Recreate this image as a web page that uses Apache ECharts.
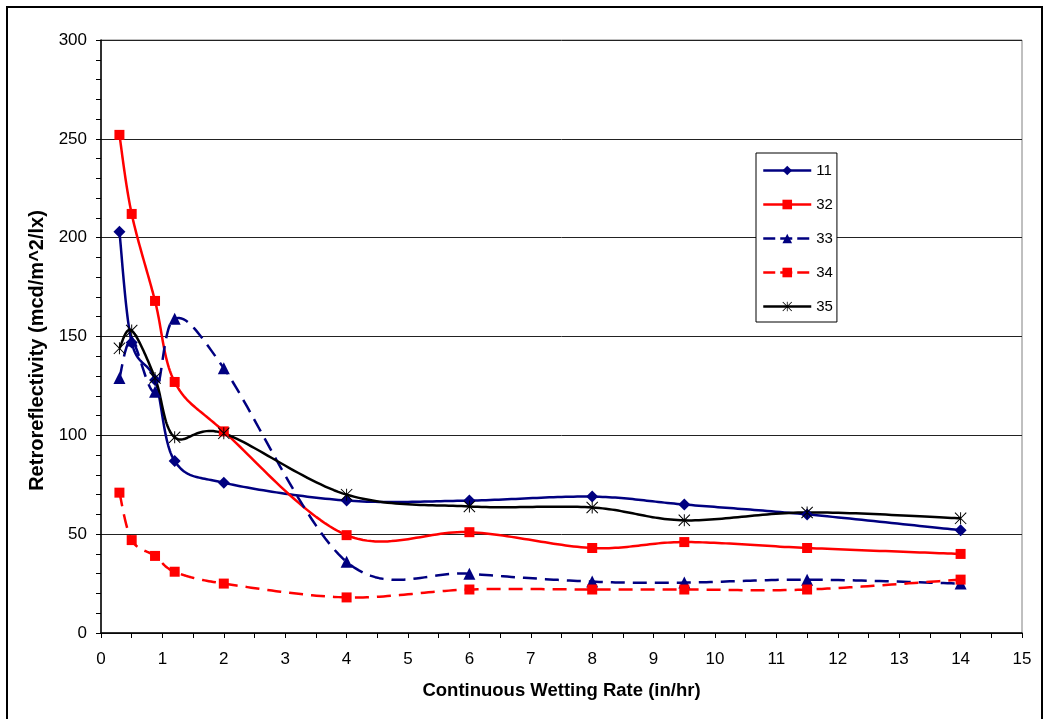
<!DOCTYPE html>
<html><head><meta charset="utf-8">
<script src="https://cdn.jsdelivr.net/npm/echarts@6/dist/echarts.min.js"></script>
<style>html,body{margin:0;padding:0;background:#fff}#c{width:1050px;height:719px}</style>
</head><body><div id="c"></div>
<script>
const xValues = [0.3, 0.5, 0.88, 1.2, 2, 4, 6, 8, 9.5, 11.5, 14];
const s11 = [203, 147, 128, 87, 76, 67, 67, 69, 65, 60, 52];
const s32 = [252, 212, 168, 127, 102, 49.5, 51, 43, 46, 43, 40];
const s33 = [129, 148, 122, 159, 134, 36, 30, 26, 25.5, 27, 25];
const s34 = [71, 47, 39, 31, 25, 18, 22, 22, 22, 22, 27];
const s35 = [144, 153, 129, 99, 101, 70, 64, 63.5, 57, 61, 58];
const seriesNames = ['11', '32', '33', '34', '35'];
const xTicks = [0,1,2,3,4,5,6,7,8,9,10,11,12,13,14,15];
const yTicks = [0,50,100,150,200,250,300];

const star = 'path://M9.2 0 L10.8 0 L10.8 20 L9.2 20 Z M0 1.2 L1.2 0 L20 18.8 L18.8 20 Z M18.8 0 L20 1.2 L1.2 20 L0 18.8 Z';
const pair = arr => xValues.map((x, i) => [x, arr[i]]);
const FONT = 'Liberation Sans, Arial, sans-serif';
const DASH = [14, 8];

const defs = [
  { name: seriesNames[0], data: s11, color: '#000080', dashed: false, symbol: 'diamond', size: 12 },
  { name: seriesNames[1], data: s32, color: '#ff0000', dashed: false, symbol: 'rect', size: 10 },
  { name: seriesNames[2], data: s33, color: '#000080', dashed: true, symbol: 'triangle', size: 12 },
  { name: seriesNames[3], data: s34, color: '#ff0000', dashed: true, symbol: 'rect', size: 10 },
  { name: seriesNames[4], data: s35, color: '#000000', dashed: false, symbol: star, size: 12 }
];

// Smooth curve (Excel-like Bezier) drawn in pixel space through the axis scales
function curveSeries(d, idx) {
  return {
    name: 'curve' + d.name, type: 'custom', z: 2 + idx * 0.01,
    data: [[xValues[0], d.data[0]]], silent: true,
    renderItem: (params, api) => {
      const pts = xValues.map((x, i) => api.coord([x, d.data[i]]));
      const n = pts.length, out = [pts[0]];
      for (let i = 0; i < n - 1; i++) {
        const p0 = pts[Math.max(i - 1, 0)], p1 = pts[i], p2 = pts[i + 1], p3 = pts[Math.min(i + 2, n - 1)];
        const c1 = [p1[0] + (p2[0] - p0[0]) / 6, p1[1] + (p2[1] - p0[1]) / 6];
        const c2 = [p2[0] - (p3[0] - p1[0]) / 6, p2[1] - (p3[1] - p1[1]) / 6];
        const steps = 30;
        for (let s = 1; s <= steps; s++) {
          const t = s / steps, u = 1 - t;
          out.push([
            u*u*u*p1[0] + 3*u*u*t*c1[0] + 3*u*t*t*c2[0] + t*t*t*p2[0],
            u*u*u*p1[1] + 3*u*u*t*c1[1] + 3*u*t*t*c2[1] + t*t*t*p2[1]
          ]);
        }
      }
      return {
        type: 'polyline', shape: { points: out },
        style: { stroke: d.color, lineWidth: 2.5, fill: null, lineDash: d.dashed ? DASH : null, lineJoin: 'round' }
      };
    }
  };
}

function markerSeries(d, idx) {
  return {
    name: d.name, type: 'line', data: pair(d.data), z: 3 + idx * 0.01,
    symbol: d.symbol, symbolSize: d.size, showSymbol: true,
    lineStyle: { color: d.color, width: 2.5, opacity: 0, type: d.dashed ? DASH : 'solid' },
    itemStyle: { color: d.color, borderColor: d.color, borderWidth: 0 },
    emphasis: { disabled: true }
  };
}

const chart = echarts.init(document.getElementById('c'), null, { renderer: 'canvas' });
chart.setOption({
  animation: false,
  backgroundColor: '#fff',
  textStyle: { fontFamily: FONT },
  graphic: [{
    type: 'rect', shape: { x: 7, y: 7, width: 1035, height: 740 },
    style: { fill: 'none', stroke: '#000', lineWidth: 2 }, z: -10, silent: true
  }],
  grid: { left: 101, right: 28, top: 40, bottom: 86, show: true, borderColor: '#808080', borderWidth: 1 },
  legend: {
    orient: 'vertical', left: 756, top: 153,
    data: defs.map(d => ({
      name: d.name,
      lineStyle: { color: d.color, width: 2.5, opacity: 1, type: d.dashed ? [12, 5] : 'solid' }
    })),
    backgroundColor: '#fff', borderColor: '#000', borderWidth: 1,
    padding: [10, 4, 8, 6], itemWidth: 48, itemHeight: 12, itemGap: 19,
    textStyle: { fontFamily: FONT, fontSize: 15, color: '#000' }
  },
  xAxis: {
    type: 'value', min: 0, max: 15, interval: 1,
    name: 'Continuous Wetting Rate (in/hr)', nameLocation: 'middle', nameGap: 48,
    nameTextStyle: { fontFamily: FONT, fontWeight: 'bold', fontSize: 18.5, color: '#000' },
    axisLine: { lineStyle: { color: '#000', width: 1.5 } },
    axisTick: { show: true, length: 5, inside: false, lineStyle: { color: '#000' } },
    minorTick: { show: true, splitNumber: 2, length: 5, lineStyle: { color: '#000' } },
    axisLabel: { fontFamily: FONT, fontSize: 17, color: '#000', margin: 18,
      formatter: v => xTicks.includes(v) ? String(v) : '' },
    splitLine: { show: false }
  },
  yAxis: {
    type: 'value', min: 0, max: 300, interval: 50,
    name: 'Retroreflectivity (mcd/m^2/lx)', nameLocation: 'middle', nameGap: 54, nameRotate: 90,
    nameTextStyle: { fontFamily: FONT, fontWeight: 'bold', fontSize: 20, color: '#000', padding: [0, 28, 0, 0] },
    axisLine: { show: true, lineStyle: { color: '#000', width: 1.5 } },
    axisTick: { show: true, length: 5, inside: false, lineStyle: { color: '#000' } },
    minorTick: { show: true, splitNumber: 5, length: 5, lineStyle: { color: '#000' } },
    axisLabel: { fontFamily: FONT, fontSize: 17, color: '#000', margin: 14,
      formatter: v => yTicks.includes(v) ? String(v) : '' },
    splitLine: { show: true, lineStyle: { color: '#222', width: 1 } }
  },
  series: defs.map(curveSeries).concat(defs.map(markerSeries))
});
</script></body></html>
